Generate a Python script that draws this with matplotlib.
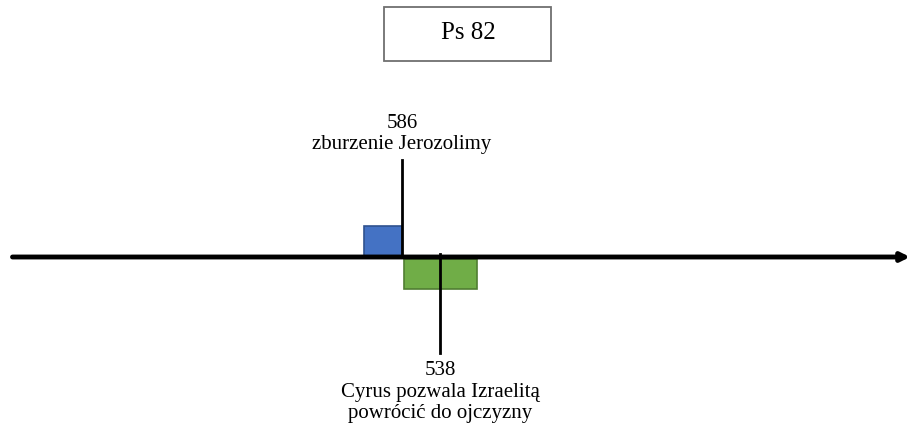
import matplotlib.pyplot as plt
from matplotlib.patches import Rectangle

plt.rcParams['font.family'] = ['Liberation Serif', 'DejaVu Serif']

# Events (years BC) and their labels
event_years = [586, 538]
event_labels = ['586\nzburzenie Jerozolimy',
                '538\nCyrus pozwala Izraelitą\npowrócić do ojczyzny']

# Periods drawn as boxes (start, end in years BC)
period_starts = [634, 584]
period_ends = [586, 491]
period_colors = ['#4472C4', '#70AD47']
period_edges = ['#2F528F', '#507E32']

title = 'Ps 82'

fig = plt.figure(figsize=(9.1, 4.3), dpi=100)
ax = fig.add_axes([0, 0, 1, 1])
ax.set_xlim(1093.8, -55.7)
ax.set_ylim(430, 0)
ax.axis('off')

# timeline axis with arrow
ax.annotate('', xy=(-55.7, 257), xytext=(1078, 257),
            arrowprops=dict(arrowstyle='-|>,head_length=0.5,head_width=0.25',
                            lw=3.5, color='black', shrinkA=0, shrinkB=0))

# period boxes: first above the axis, second below
box_y = [(226, 257), (259, 289)]
for s, e, c, ec, (y0, y1) in zip(period_starts, period_ends, period_colors,
                                 period_edges, box_y):
    ax.add_patch(Rectangle((s, y0), e - s, y1 - y0, facecolor=c,
                           edgecolor=ec, lw=1.2, zorder=2))

# event markers and labels
ax.plot([event_years[0]] * 2, [160, 257], color='black', lw=2, zorder=3)
ax.text(event_years[0], 134, event_labels[0], ha='center', va='center',
        fontsize=15, linespacing=1.2)

ax.plot([event_years[1]] * 2, [254, 353], color='black', lw=2, zorder=3)
ax.text(event_years[1], 392, event_labels[1], ha='center', va='center',
        fontsize=15, linespacing=1.2)

# title box (x in axes fraction, y in pixel-like data units)
tr = ax.get_yaxis_transform()
ax.add_patch(Rectangle((0.422, 7), 0.184, 54, transform=tr,
                       facecolor='white', edgecolor='#707070', lw=1.3, zorder=0))
ax.text(0.515, 33, title, transform=tr, ha='center', va='center', fontsize=18)

plt.savefig('out.png', dpi=100)
